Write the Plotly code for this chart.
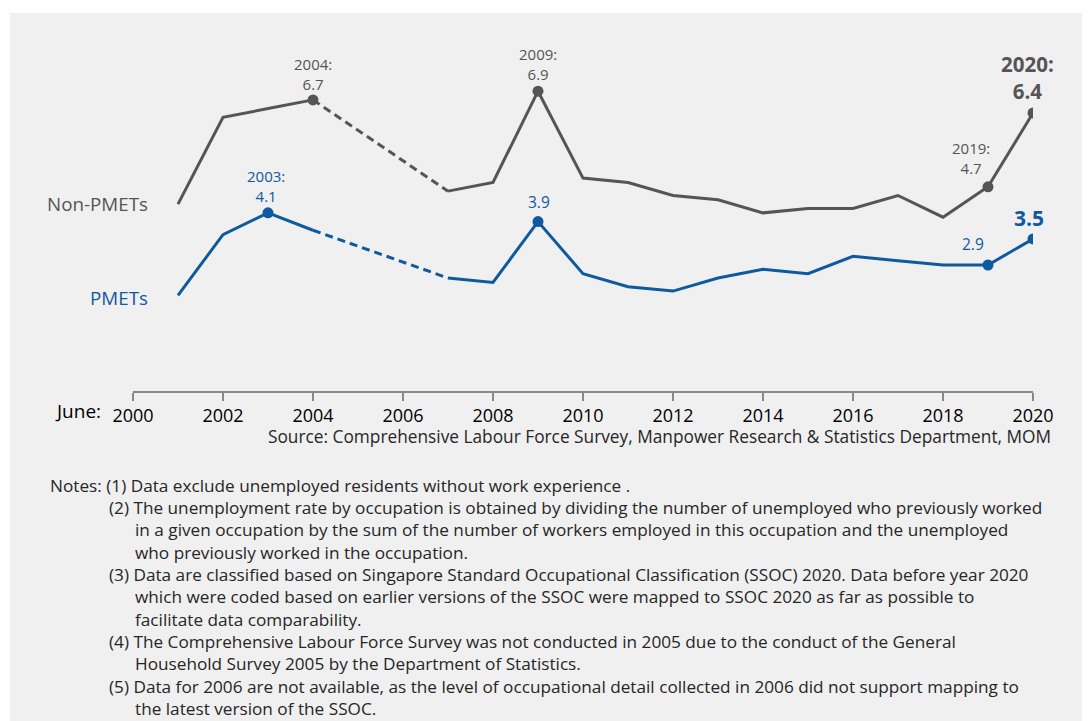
import plotly.graph_objects as go

# ---------------- data ----------------
years_avail = [2001, 2002, 2003, 2004, 2007, 2008, 2009, 2010, 2011, 2012, 2013,
               2014, 2015, 2016, 2017, 2018, 2019, 2020]
non_pmets = [4.3, 6.3, 6.5, 6.7, 4.6, 4.8, 6.9, 4.9, 4.8, 4.5, 4.4,
             4.1, 4.2, 4.2, 4.5, 4.0, 4.7, 6.4]
pmets = [2.2, 3.6, 4.1, 3.7, 2.6, 2.5, 3.9, 2.7, 2.4, 2.3, 2.6,
         2.8, 2.7, 3.1, 3.0, 2.9, 2.9, 3.5]
tick_years = list(range(2000, 2021, 2))
tick_labels = [str(y) for y in tick_years]

non_marked = [2004, 2009, 2019, 2020]
pm_marked = [2003, 2009, 2019, 2020]

notes = [
    ("Notes: (1) Data exclude unemployed residents without work experience .", 48),
    ("(2) The unemployment rate by occupation is obtained by dividing the number of unemployed who previously worked", 107),
    ("in a given occupation by the sum of the number of workers employed in this occupation and the unemployed", 133),
    ("who previously worked in the occupation.", 133),
    ("(3) Data are classified based on Singapore Standard Occupational Classification (SSOC) 2020. Data before year 2020", 107),
    ("which were coded based on earlier versions of the SSOC were mapped to SSOC 2020 as far as possible to", 133),
    ("facilitate data comparability.", 133),
    ("(4) The Comprehensive Labour Force Survey was not conducted in 2005 due to the conduct of the General", 107),
    ("Household Survey 2005 by the Department of Statistics.", 133),
    ("(5) Data for 2006 are not available, as the level of occupational detail collected in 2006 did not support mapping to", 107),
    ("the latest version of the SSOC.", 133),
]
source_text = "Source: Comprehensive Labour Force Survey, Manpower Research & Statistics Department, MOM"

GRAY = "#555555"
BLUE = "#0f5a9c"
TEXT = "#262626"
FONT = "Open Sans"

OFF = 8  # page body margin
W, H = 1090 - OFF, 721 - OFF
L = 133 - OFF
R = W - (1033 - OFF)
T = 13 - OFF
B = H - (391 - OFF)
PW, PH = W - L - R, H - T - B


def px(x):
    return (x - OFF - L) / PW


def py(y):
    return 1 - (y - OFF - T) / PH


fig = go.Figure()


def add_series(vals, color, marked):
    d = dict(zip(years_avail, vals))
    seg1 = [y for y in years_avail if y <= 2004]
    seg2 = [2004, 2007]
    seg3 = [y for y in years_avail if y >= 2007]
    for seg, dash in ((seg1, "solid"), (seg2, "8px,5px"), (seg3, "solid")):
        fig.add_trace(go.Scatter(x=seg, y=[d[y] for y in seg], mode="lines",
                                 line=dict(color=color, width=3, dash=dash),
                                 hoverinfo="skip", showlegend=False))
    fig.add_trace(go.Scatter(x=marked, y=[d[y] for y in marked], mode="markers",
                             marker=dict(color=color, size=11),
                             hoverinfo="skip", showlegend=False))
    return d


dn = add_series(non_pmets, GRAY, non_marked)
dp = add_series(pmets, BLUE, pm_marked)

ann = []


def lab(x, v, text, color, size=15, bold=False, xshift=0, yshift=5):
    ann.append(dict(x=x, y=v, xref="x", yref="y",
                    text=f"<b>{text}</b>" if bold else text,
                    showarrow=False, xanchor="center", yanchor="bottom",
                    xshift=xshift, yshift=yshift,
                    font=dict(family=FONT, size=size, color=color)))


lab(2004, dn[2004], f"2004:<br>{dn[2004]}", GRAY, yshift=4)
lab(2009, dn[2009], f"2009:<br>{dn[2009]}", GRAY, yshift=5)
lab(2019, dn[2019], f"2019:<br>{dn[2019]}", GRAY, xshift=-17, yshift=7)
lab(2020, dn[2020], f"2020:<br>{dn[2020]}", GRAY, size=20.5, bold=True, xshift=-6, yshift=6)
lab(2003, dp[2003], f"2003:<br>{dp[2003]}", BLUE, xshift=-2, yshift=5)
lab(2009, dp[2009], f"{dp[2009]}", BLUE, size=15.5, xshift=1, yshift=7)
lab(2019, dp[2019], f"{dp[2019]}", BLUE, size=15.5, xshift=-15, yshift=8)
lab(2020, dp[2020], f"{dp[2020]}", BLUE, size=21, bold=True, xshift=-4, yshift=5)

# series names
ann.append(dict(x=px(150), y=py(204), xref="paper", yref="paper", text="Non-PMETs",
                showarrow=False, xanchor="right", yanchor="middle",
                font=dict(family=FONT, size=18.8, color=GRAY)))
ann.append(dict(x=px(150), y=py(298), xref="paper", yref="paper", text="PMETs",
                showarrow=False, xanchor="right", yanchor="middle",
                font=dict(family=FONT, size=18.8, color=BLUE)))
# June:
ann.append(dict(x=px(103), y=py(411), xref="paper", yref="paper", text="June:",
                showarrow=False, xanchor="right", yanchor="middle",
                font=dict(family=FONT, size=19, color="#000000")))
# source
ann.append(dict(x=px(1053), y=py(436), xref="paper", yref="paper", text=source_text,
                showarrow=False, xanchor="right", yanchor="middle",
                font=dict(family=FONT, size=17.3, color=TEXT)))
# notes
for i, (t, x0) in enumerate(notes):
    y0 = 485 + i * 22.36
    ann.append(dict(x=px(x0), y=py(y0), xref="paper", yref="paper", text=t,
                    showarrow=False, xanchor="left", yanchor="middle",
                    font=dict(family=FONT, size=17.2, color=TEXT)))

fig.update_layout(
    width=W, height=H,
    margin=dict(l=L, r=R, t=T, b=B, autoexpand=False),
    paper_bgcolor="white",
    plot_bgcolor="rgba(0,0,0,0)",
    annotations=ann,
    shapes=[dict(type="rect", xref="paper", yref="paper", layer="below",
                 x0=px(10), x1=px(1100), y0=py(730), y1=py(13),
                 fillcolor="#f0f0f0", line=dict(width=0))],
    xaxis=dict(range=[2000, 2020], tickvals=tick_years, ticktext=tick_labels,
               showgrid=False, zeroline=False, showline=True, linecolor="#888888",
               linewidth=1.5, ticks="outside", ticklen=8, tickcolor="#888888",
               tickwidth=1.5, tickfont=dict(family=FONT, size=18, color="#000000"),
               fixedrange=True),
    yaxis=dict(range=[0, 8.7], visible=False, fixedrange=True),
    showlegend=False,
)

fig.write_html("out.html")
